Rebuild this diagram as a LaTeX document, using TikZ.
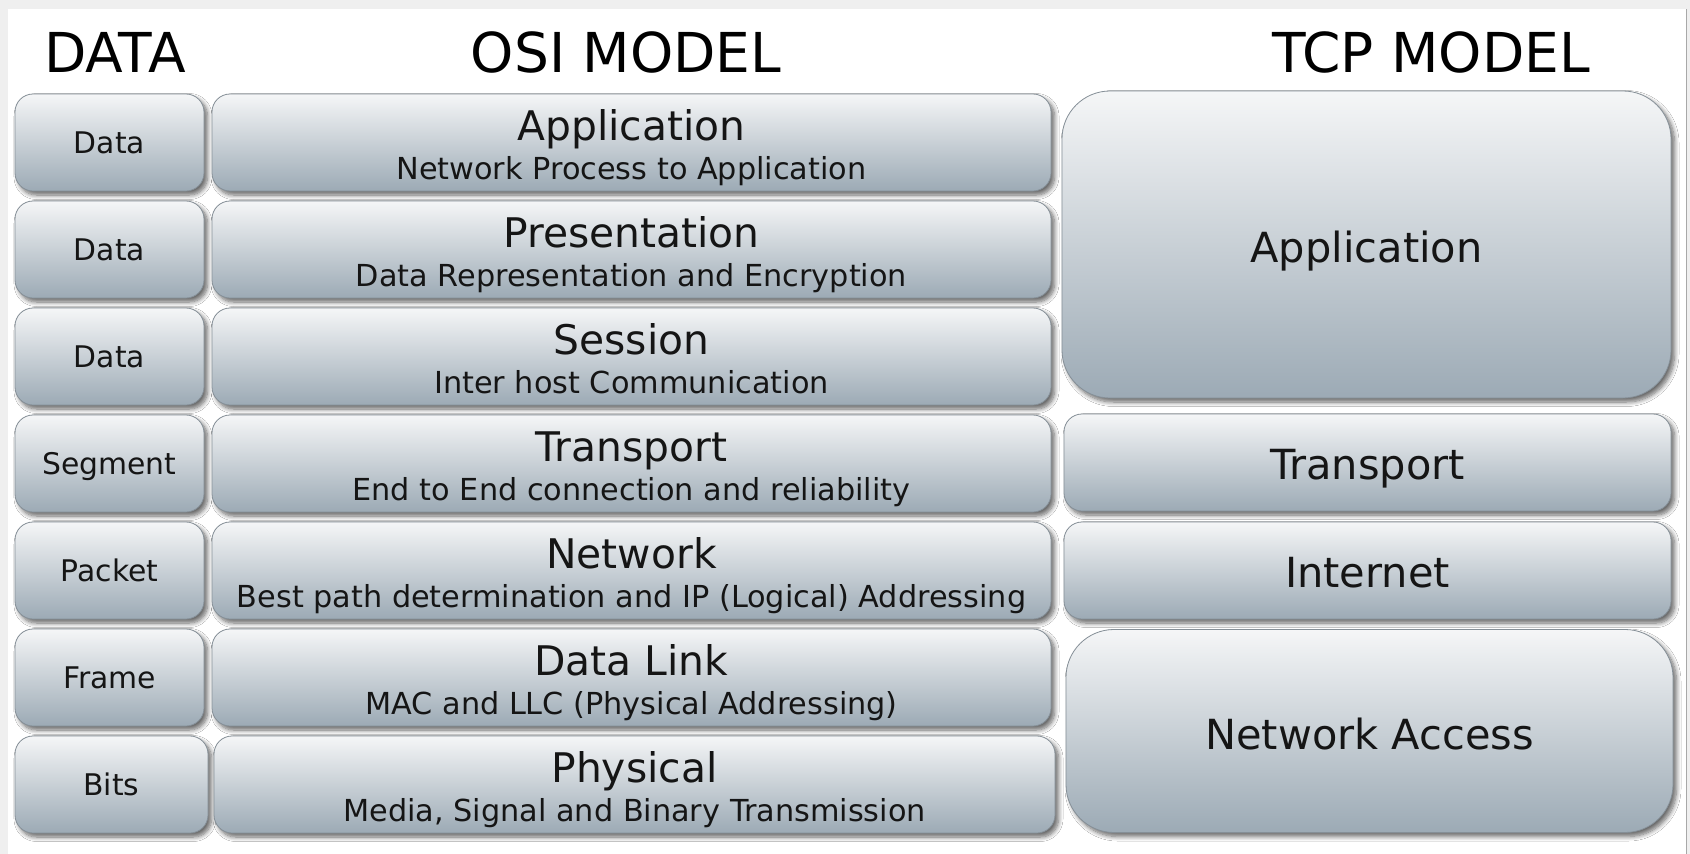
\documentclass[tikz,border=0pt]{standalone}
\usepackage{fontspec}
\setmainfont{DejaVu Sans}
\usetikzlibrary{shadows.blur}
\definecolor{boxtop}{HTML}{F5F6F7}
\definecolor{boxbot}{HTML}{9CAAB5}
\definecolor{boxedge}{HTML}{858F97}
\definecolor{txt}{HTML}{151515}
\definecolor{framegray}{HTML}{EFEFEF}
\definecolor{frameline}{HTML}{A8A8A8}
\begin{document}
\begin{tikzpicture}[x=1pt,y=-1pt,
  layer/.style={draw=boxedge, line width=0.8pt, top color=boxtop, bottom color=boxbot,
    rounded corners=18pt, inner sep=0pt, text=txt, align=center,
    text depth=0pt,
    blur shadow={shadow xshift=3.5pt, shadow yshift=-4pt, shadow blur radius=4.5pt, shadow blur steps=8, shadow opacity=60}},
  bigbox/.style={layer, rounded corners=48pt},
  datafont/.style={font=\fontsize{29.8}{34}\selectfont, text height=21.7pt},
  tcpfont/.style={font=\fontsize{41.5}{46}\selectfont, text height=34pt},
  osititle/.style={anchor=base, inner sep=0pt, text=txt, font=\fontsize{40.8}{46}\selectfont},
  osisub/.style={anchor=base, inner sep=0pt, text=txt, font=\fontsize{30.3}{34}\selectfont},
  header/.style={anchor=base, inner sep=0pt, text=black, font=\fontsize{55}{60}\selectfont},
  datacol/.style={layer, datafont, minimum width=189pt, minimum height=97pt},
  osicol/.style={layer, minimum width=839pt, minimum height=97pt}
]
\useasboundingbox (0,0) rectangle (1690,854);
\fill[framegray] (0,0) rectangle (1690,854);
\fill[white] (8,9) rectangle (1686,854);
\draw[frameline, line width=1pt] (1686,9) -- (1686,854);

% headers
\node[header] (hdata) at (115,72) {DATA};
\node[header] (hosi) at (626,72) {OSI MODEL};
\node[header] (htcp) at (1431,72) {TCP MODEL};

% data column
\node[datacol] (d1) at (109.5,142.5) {Data};
\node[datacol] (d2) at (109.5,249.5) {Data};
\node[datacol] (d3) at (109.5,356.5) {Data};
\node[datacol] (d4) at (109.5,463.5) {Segment};
\node[datacol] (d5) at (109.5,570.5) {Packet};
\node[datacol] (d6) at (109.5,677.5) {Frame};
\node[datacol, minimum width=193pt] (d7) at (111.5,784.5) {Bits};

% OSI column
\node[osicol] (o1) at (631.5,142.5) {};
\node[osicol] (o2) at (631.5,249.5) {};
\node[osicol] (o3) at (631.5,356.5) {};
\node[osicol] (o4) at (631.5,463.5) {};
\node[osicol] (o5) at (631.5,570.5) {};
\node[osicol] (o6) at (631.5,677.5) {};
\node[osicol, minimum width=841pt] (o7) at (634.5,784.5) {};

\node[osititle] (o1t) at ([yshift=2pt]o1.center) {Application};
\node[osisub]   (o1s) at ([yshift=-36.5pt]o1.center) {Network Process to Application};
\node[osititle] (o2t) at ([yshift=2pt]o2.center) {Presentation};
\node[osisub]   (o2s) at ([yshift=-36.5pt]o2.center) {Data Representation and Encryption};
\node[osititle] (o3t) at ([yshift=2pt]o3.center) {Session};
\node[osisub]   (o3s) at ([yshift=-36.5pt]o3.center) {Inter host Communication};
\node[osititle] (o4t) at ([yshift=2pt]o4.center) {Transport};
\node[osisub]   (o4s) at ([yshift=-36.5pt]o4.center) {End to End connection and reliability};
\node[osititle] (o5t) at ([yshift=2pt]o5.center) {Network};
\node[osisub]   (o5s) at ([yshift=-36.5pt]o5.center) {Best path determination and IP (Logical) Addressing};
\node[osititle] (o6t) at ([yshift=2pt]o6.center) {Data Link};
\node[osisub]   (o6s) at ([yshift=-36.5pt]o6.center) {MAC and LLC (Physical Addressing)};
\node[osititle] (o7t) at ([yshift=2pt]o7.center) {Physical};
\node[osisub]   (o7s) at ([yshift=-36.5pt]o7.center) {Media, Signal and Binary Transmission};

% TCP column
\node[bigbox, tcpfont, text height=36pt, minimum width=609pt, minimum height=307pt] (t1) at (1366.5,244.5) {Application};
\node[layer, tcpfont, minimum width=607pt, minimum height=97pt] (t2) at (1367.5,462.5) {Transport};
\node[layer, tcpfont, minimum width=607pt, minimum height=97pt] (t3) at (1367.5,570.5) {Internet};
\node[bigbox, tcpfont, text height=36pt, minimum width=607pt, minimum height=203pt] (t4) at (1369.5,731) {Network Access};
\end{tikzpicture}
\end{document}
